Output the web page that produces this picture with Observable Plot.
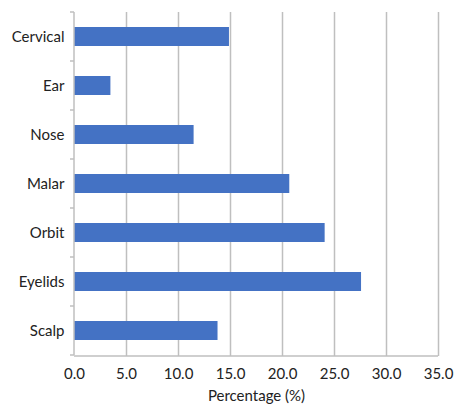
<!DOCTYPE html>
<html>
<head>
<meta charset="utf-8">
<script src="https://cdn.jsdelivr.net/npm/d3@7"></script>
<script src="https://cdn.jsdelivr.net/npm/@observablehq/plot@0.6"></script>
<style>
  html, body { margin: 0; padding: 0; background: #fff; }
  #chart { width: 468px; height: 408px; }
</style>
</head>
<body>
<div id="chart"></div>
<script>
const categories = ["Cervical", "Ear", "Nose", "Malar", "Orbit", "Eyelids", "Scalp"];
const values = [14.9, 3.5, 11.5, 20.7, 24.1, 27.6, 13.8];
const xTicks = [0, 5, 10, 15, 20, 25, 30, 35];
const gridTicks = [5, 10, 15, 20, 25, 30, 35];
const xLabel = "Percentage (%)";

const data = categories.map((c, i) => ({ category: c, value: values[i] }));

const axisColor = "#bfbfbf";

function categoryAxis(index, scales, values, dimensions) {
  const y = scales.y, x = scales.x;
  const top = dimensions.marginTop;
  const bottom = dimensions.height - dimensions.marginBottom;
  const n = categories.length;
  const step = y.step ? y.step() : (bottom - top) / n;
  const bw = y.bandwidth ? y.bandwidth() : step * 0.39;
  const x0 = x(0), x1 = x(xTicks[xTicks.length - 1]);
  const g = d3.create("svg:g").attr("stroke", axisColor).attr("stroke-width", 1.5).attr("fill", "none");
  const bounds = categories.map(c => y(c) - (step - bw) / 2);
  bounds.push(bounds[bounds.length - 1] + step);
  for (const b of bounds) {
    g.append("line").attr("x1", x0 - 4).attr("x2", x0).attr("y1", b).attr("y2", b);
  }
  g.append("line").attr("x1", x0).attr("x2", x0).attr("y1", bounds[0]).attr("y2", bounds[bounds.length - 1]);
  g.append("line").attr("x1", x0).attr("x2", x1).attr("y1", bottom).attr("y2", bottom);
  return g.node();
}

const chart = Plot.plot({
  width: 468,
  height: 408,
  marginLeft: 74,
  marginRight: 30,
  marginTop: 12,
  marginBottom: 52,
  style: { fontFamily: "Lato, sans-serif", fontSize: "15px", color: "#222", background: "#fff" },
  x: { domain: [0, 35] },
  y: { domain: categories, paddingInner: 0.61, paddingOuter: 0.305 },
  marks: [
    Plot.gridX(gridTicks, { stroke: axisColor, strokeOpacity: 1, strokeWidth: 1.5 }),
    Plot.barX(data, { x: "value", y: "category", fill: "#4472C4" }),
    categoryAxis,
    Plot.axisX({ ticks: xTicks, tickFormat: d3.format(".1f"), tickSize: 0, tickPadding: 12, label: null, fontSize: 15 }),
    Plot.axisY({ tickSize: 0, tickPadding: 10, label: null, fontSize: 15 }),
    Plot.text([xLabel], { frameAnchor: "bottom", dy: 44, text: d => d, fontSize: 15, fill: "#222" })
  ]
});

document.getElementById("chart").appendChild(chart);
</script>
</body>
</html>
